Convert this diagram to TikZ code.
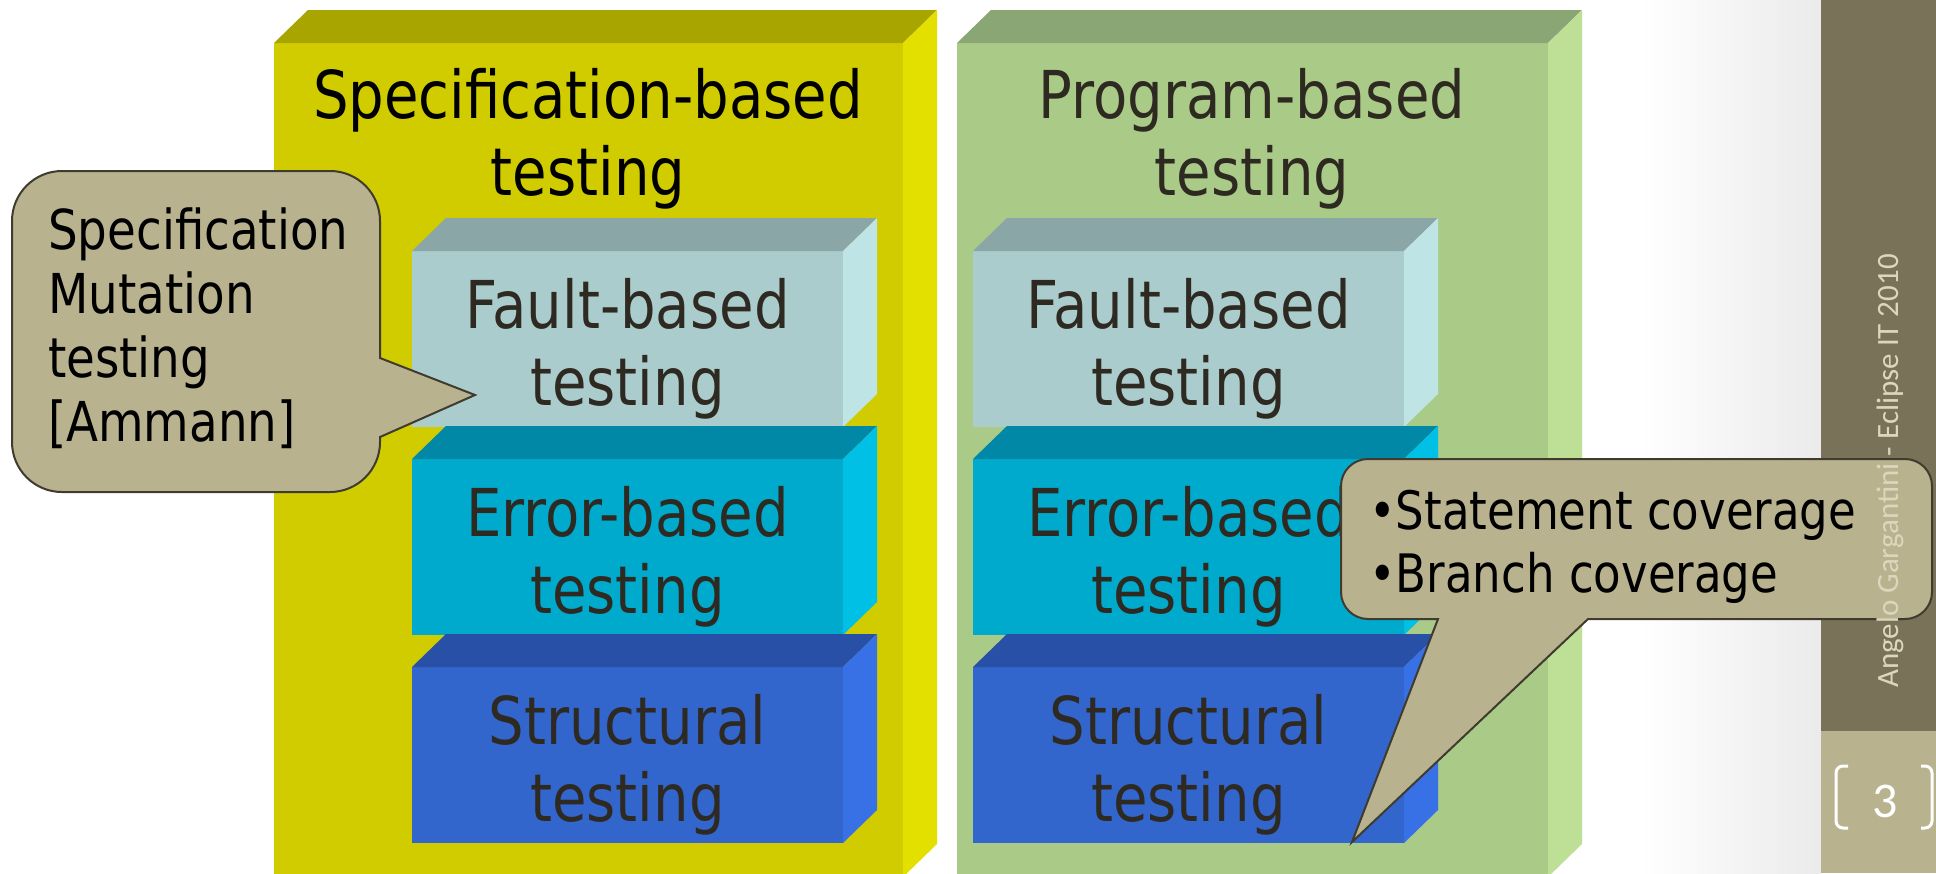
\documentclass[tikz,border=0pt]{standalone}
\usepackage{fontspec}
\usepackage{tikz}
\usetikzlibrary{positioning, calc}
\setmainfont{DejaVu Sans}[FakeStretch=0.85]
\newfontfamily\footfont{Carlito}
\definecolor{yellowF}{RGB}{209,204,0}
\definecolor{yellowT}{RGB}{168,164,0}
\definecolor{yellowS}{RGB}{227,224,0}
\definecolor{greenF}{RGB}{169,203,135}
\definecolor{greenT}{RGB}{138,166,116}
\definecolor{greenS}{RGB}{190,224,150}
\definecolor{faultF}{RGB}{170,204,205}
\definecolor{faultT}{RGB}{138,166,167}
\definecolor{faultS}{RGB}{190,228,230}
\definecolor{errorF}{RGB}{0,170,204}
\definecolor{errorT}{RGB}{0,136,166}
\definecolor{errorS}{RGB}{0,192,230}
\definecolor{structF}{RGB}{51,102,204}
\definecolor{structT}{RGB}{40,80,166}
\definecolor{structS}{RGB}{56,112,230}
\definecolor{noteFill}{RGB}{184,178,142}
\definecolor{noteLine}{RGB}{63,59,47}
\definecolor{barDark}{RGB}{122,113,89}
\definecolor{textDark}{RGB}{46,42,34}
\definecolor{footText}{RGB}{220,214,188}
\newcommand{\cubesides}[3]{%
  \fill[#2] (#1.north west) -- ++(34,-33) -- ($(#1.north east)+(34,-33)$)
    -- (#1.north east) -- cycle;
  \fill[#3] (#1.north east) -- ++(34,-33) -- ($(#1.south east)+(34,-33)$)
    -- (#1.south east) -- cycle;}
\tikzset{
  tb/face/.style={rectangle, fill=#1, inner sep=0pt, outer sep=0pt},
  tb/outer/.style={tb/face=#1, minimum height=834pt, anchor=north west},
  tb/inner/.style={tb/face=#1, minimum width=431pt, minimum height=176pt},
  tb/title/.style={font=\fontsize{66}{77}\selectfont, align=center,
    inner sep=0pt},
  tb/lbl/.style={font=\fontsize{66}{77}\selectfont, align=center,
    inner sep=0pt, text=textDark},
  tb/callout/.style={fill=noteFill, draw=noteLine, line width=2pt},
  tb/note/.style={align=left, inner sep=0pt, anchor=north west}
}

\begin{document}
\begin{tikzpicture}[x=1pt, y=-1pt, node distance=32pt]
  \useasboundingbox (0,0) rectangle (1936,873);
  \clip (0,0) rectangle (1936,873);
  \fill[white] (0,0) rectangle (1936,873);
  \shade[left color=white, right color=black!8] (1640,0) rectangle (1821,873);
  \fill[barDark] (1821,0) rectangle (1936,731);
  \fill[noteFill] (1821,731) rectangle (1936,873);

  \node[tb/outer=yellowF, minimum width=629pt] (sbox) at (274,43) {};
  \cubesides{sbox}{yellowT}{yellowS}
  \node[tb/outer=greenF, minimum width=591pt] (pbox) at (957,43) {};
  \cubesides{pbox}{greenT}{greenS}

  \node[tb/title] (stitle) at (588,139) {Specification-based\\testing};
  \node[tb/title, text=textDark] (ptitle) at (1252,139) {Program-based\\testing};

  \node[tb/inner=faultF, anchor=north west] (sfault) at (412,251) {};
  \node[tb/inner=errorF, below=of sfault] (serror) {};
  \node[tb/inner=structF, below=of serror] (sstruct) {};
  \node[tb/inner=faultF, anchor=north west] (pfault) at (973,251) {};
  \node[tb/inner=errorF, below=of pfault] (perror) {};
  \node[tb/inner=structF, below=of perror] (pstruct) {};
  \cubesides{sfault}{faultT}{faultS}
  \cubesides{serror}{errorT}{errorS}
  \cubesides{sstruct}{structT}{structS}
  \cubesides{pfault}{faultT}{faultS}
  \cubesides{perror}{errorT}{errorS}
  \cubesides{pstruct}{structT}{structS}

  \node[tb/lbl] (sfaultT) at ($(sfault.center)+(0,10)$) {Fault-based\\testing};
  \node[tb/lbl] (serrorT) at ($(serror.center)+(0,10)$) {Error-based\\testing};
  \node[tb/lbl] (sstructT) at ($(sstruct.center)+(0,10)$) {Structural\\testing};
  \node[tb/lbl] (pfaultT) at ($(pfault.center)+(0,10)$) {Fault-based\\testing};
  \node[tb/lbl] (perrorT) at ($(perror.center)+(0,10)$) {Error-based\\testing};
  \node[tb/lbl] (pstructT) at ($(pstruct.center)+(0,10)$) {Structural\\testing};

  \draw[tb/callout] (380,358) [rounded corners=50pt] -- (380,171) -- (12,171)
    -- (12,492) -- (380,492) [sharp corners] -- (380,437) -- (475,395) -- cycle;
  \node[tb/note, font=\fontsize{55}{64}\selectfont] (specnote) at (48,208)
    {Specification\\Mutation\\testing\\{}[Ammann]};
  \draw[tb/callout] (1588,619) [rounded corners=27pt] -- (1932,619) -- (1932,459)
    -- (1341,459) -- (1341,619) [sharp corners] -- (1438,619) -- (1352,842) -- cycle;
  \node[tb/note, font=\fontsize{53}{63}\selectfont] (covnote) at (1369,490)
    {•Statement coverage\\•Branch coverage};

  \node[rotate=90, font=\footfont\fontsize{31}{31}\selectfont, text=footText]
    (author) at (1890,471) {Angelo Gargantini - Eclipse IT 2010};
  \draw[white, line width=3pt, rounded corners=7pt]
    (1848,766) -- (1836,766) -- (1836,828) -- (1848,828);
  \draw[white, line width=3pt, rounded corners=7pt]
    (1921,766) -- (1932,766) -- (1932,828) -- (1921,828);
  \node[font=\footfont\fontsize{50}{50}\selectfont, text=white] (pagenum)
    at (1885,801) {3};
\end{tikzpicture}
\end{document}
